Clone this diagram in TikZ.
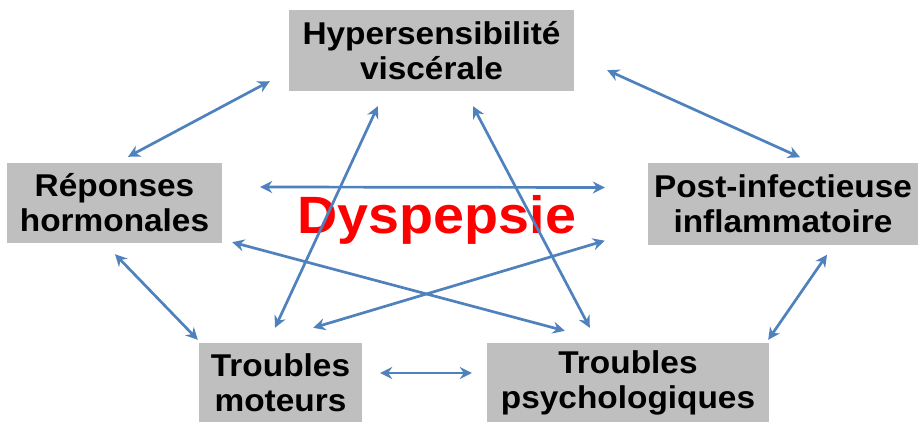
\documentclass[tikz,border=0pt]{standalone}
\usepackage{fontspec}
\setmainfont{Liberation Sans}[FakeStretch=1.06]
\usepackage{xcolor}
\usetikzlibrary{positioning,arrows.meta,calc}
\definecolor{boxgray}{RGB}{191,191,191}
\definecolor{arrblue}{RGB}{79,129,189}

\begin{document}
\begin{tikzpicture}[x=1pt,y=-1pt,
  every node/.style={align=center},
  box/.style={fill=boxgray,inner sep=0pt,
    font=\fontsize{31.5}{35}\selectfont\bfseries},
  arr/.style={<->,>={Stealth[length=12pt,width=12pt,inset=4pt]},
    draw=arrblue,line width=2.7pt}
]
  \useasboundingbox (0,0) rectangle (920,422);

  \node[box,minimum width=285pt,minimum height=81pt] (hyper) at (431.5,50.5)
    {Hypersensibilit\'e\\visc\'erale};
  \node[box,minimum width=215pt,minimum height=80pt] (repon) at (114.5,203)
    {R\'eponses\\hormonales};
  \node[box,minimum width=270pt,minimum height=81pt] (postinf) at (783,204)
    {Post-infectieuse\\inflammatoire};
  \node[box,minimum width=163pt,minimum height=79pt] (moteur) at (280.5,382.5)
    {Troubles\\moteurs};
  \node[box,minimum width=282pt,minimum height=79pt] (psycho) at (628,382.5)
    {Troubles\\psychologiques};
  \node[text=red,inner sep=0pt,font=\fontsize{52.5}{55}\selectfont\bfseries]
    (dysp) at (437,220) {Dyspepsie};

  \draw[arr] ($(hyper.south west)+(-19,-10)$) -- ($(repon.north)+(13.5,-6)$);
  \draw[arr] ($(hyper.south east)+(33,-21)$) -- ($(postinf.north)+(17,-6)$);
  \draw[arr] ($(repon.east)+(38,-16)$) -- ($(postinf.west)+(-43,-16.5)$);
  \draw[arr] ($(repon.south east)+(10,-1)$) -- ($(psycho.north west)+(78,-12)$);
  \draw[arr] ($(moteur.north east)+(-49,-15)$) -- ($(postinf.south west)+(-43,-4)$);
  \draw[arr] ($(hyper.south west)+(89,15)$) -- ($(moteur.north)+(-5.5,-15)$);
  \draw[arr] ($(hyper.south)+(41.5,15)$) -- ($(psycho.north west)+(103,-15)$);
  \draw[arr] ($(repon.south)+(0.5,11)$) -- ($(moteur.north west)+(-1,-3)$);
  \draw[arr] ($(postinf.south)+(44,10)$) -- ($(psycho.north east)+(-1,-3)$);
  \draw[arr] ($(moteur.east)+(18,-9.5)$) -- ($(psycho.west)+(-15,-9.5)$);
\end{tikzpicture}
\end{document}
